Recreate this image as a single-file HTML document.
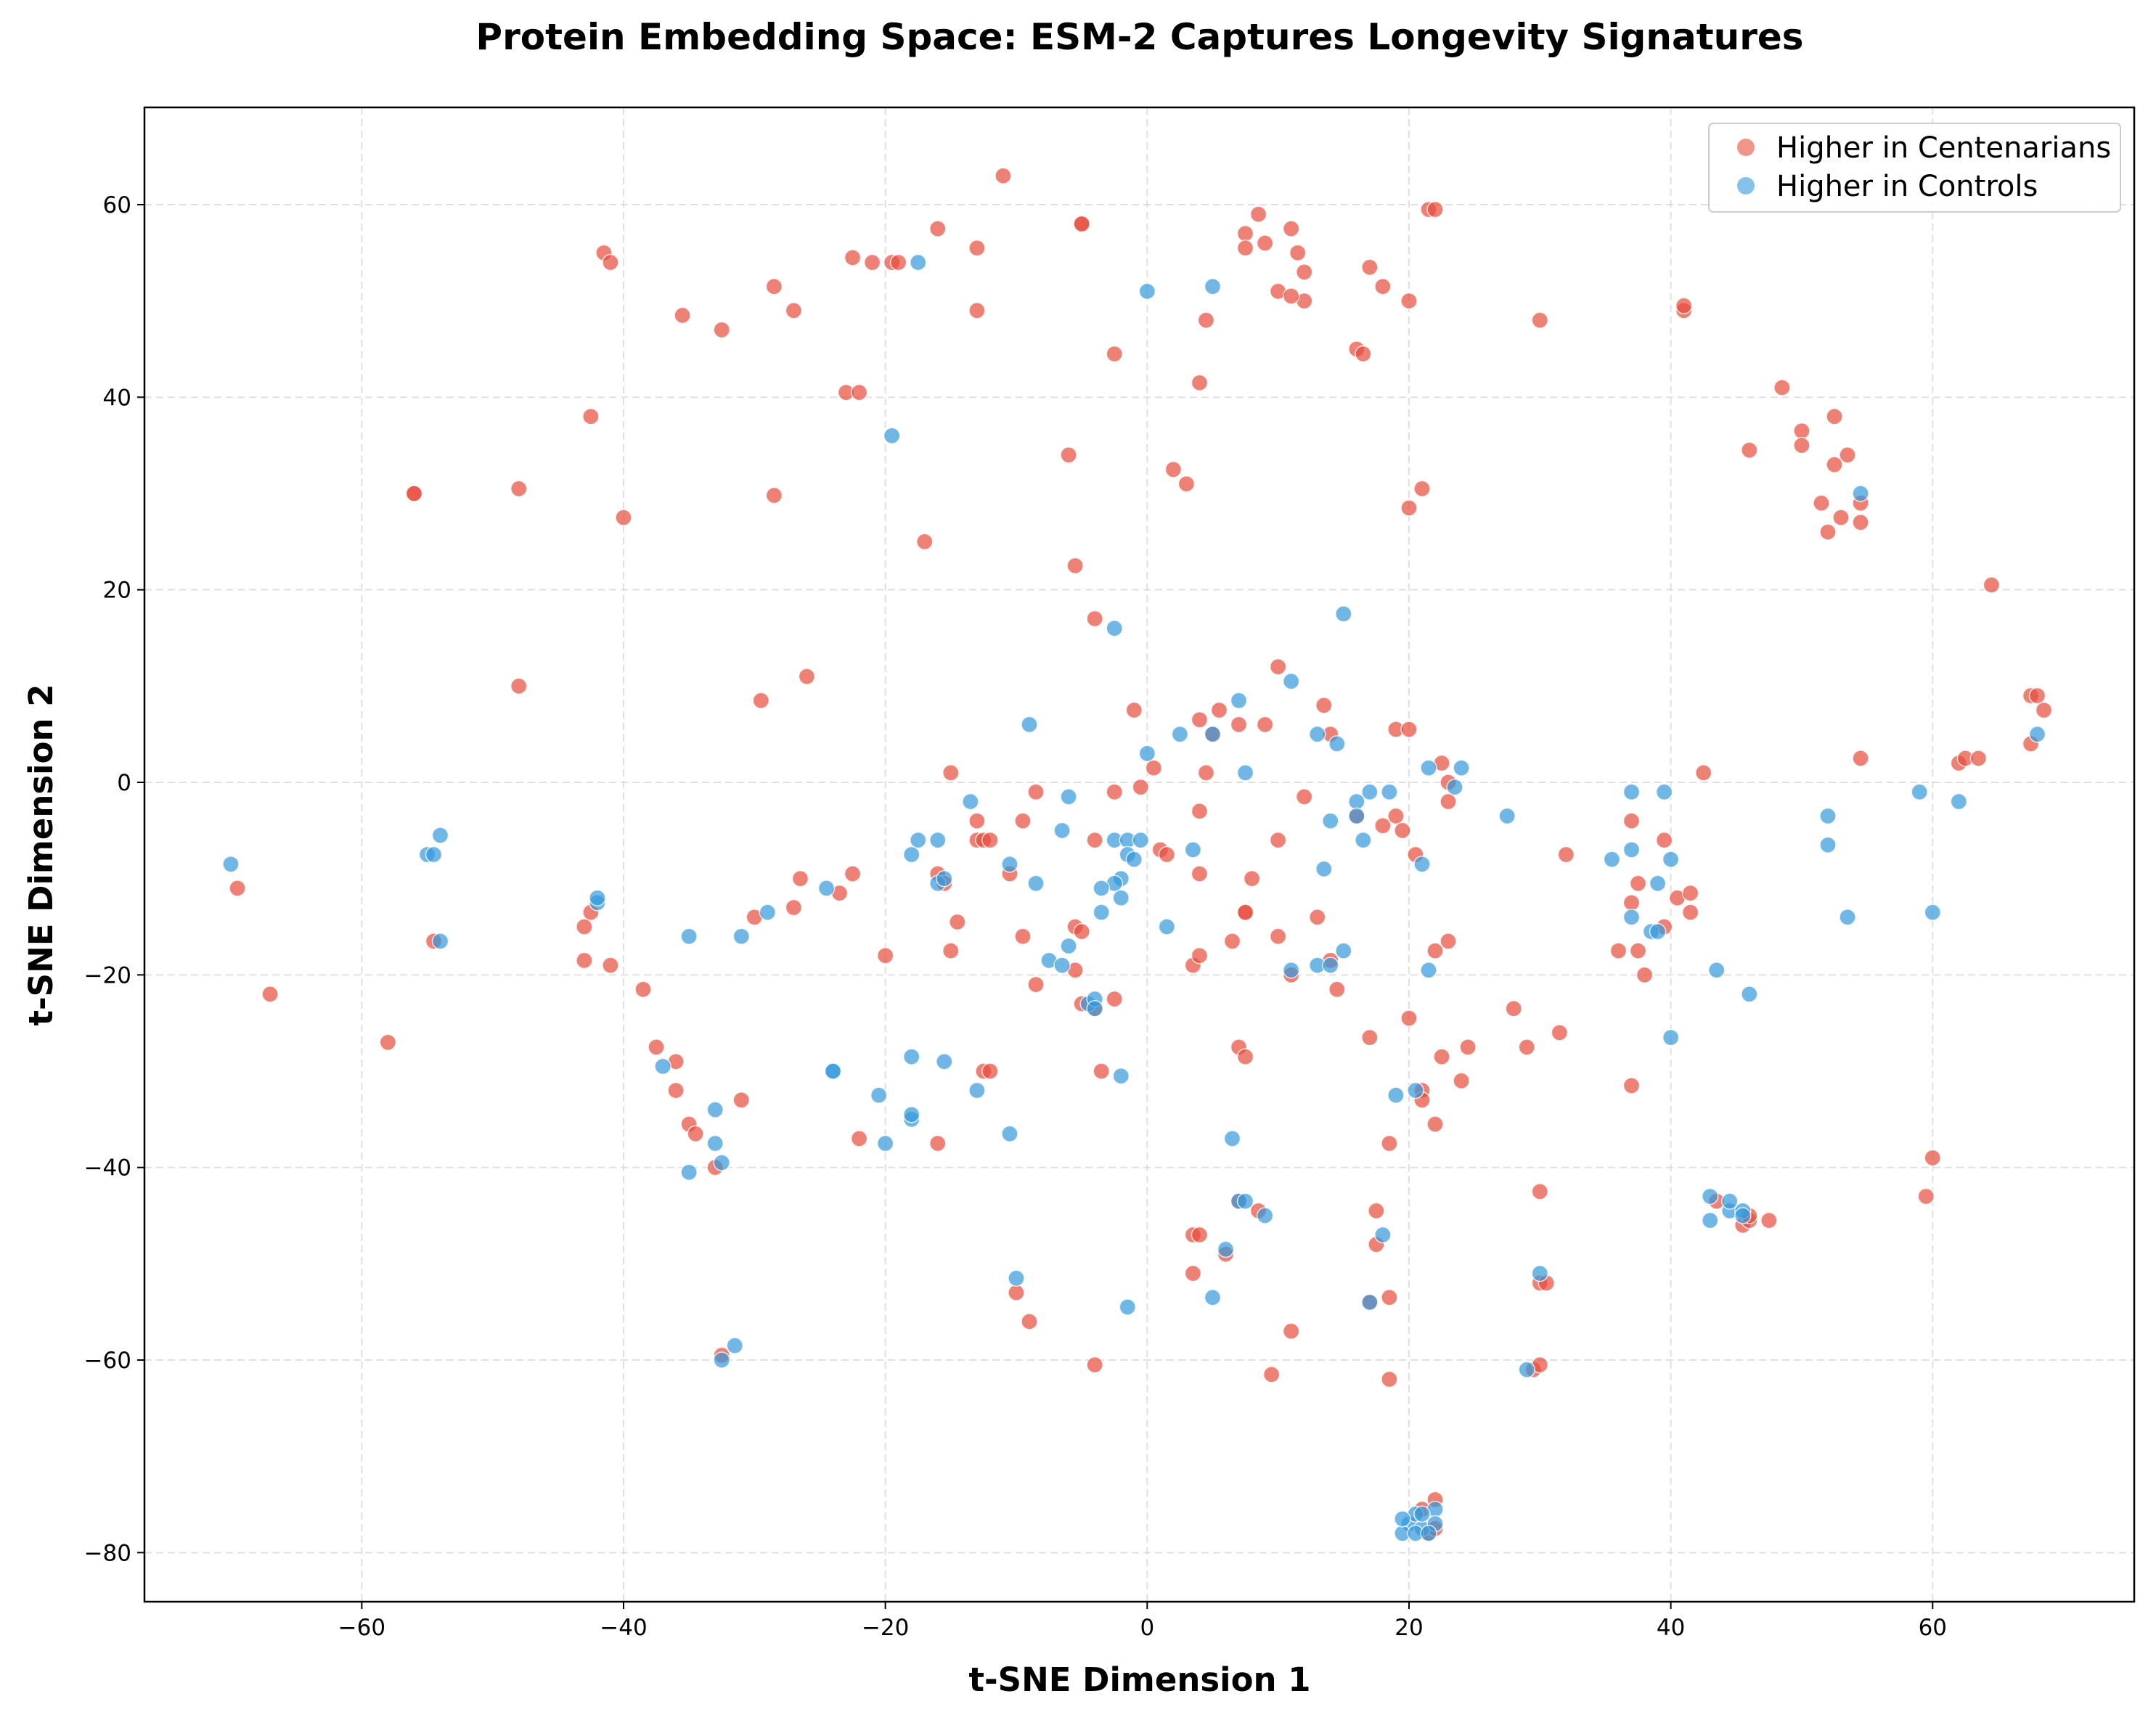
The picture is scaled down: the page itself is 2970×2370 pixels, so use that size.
<!DOCTYPE html>
<html><head><meta charset="utf-8"><style>body{margin:0;background:#fff}svg{display:block}</style></head>
<body>
<svg id="chart" width="2970" height="2370" viewBox="0 0 2970 2370" xmlns="http://www.w3.org/2000/svg" font-family="DejaVu Sans, Liberation Sans, sans-serif">
<rect width="2970" height="2370" fill="#fff"/>
<text x="1570" y="68" text-anchor="middle" font-size="50" font-weight="bold">Protein Embedding Space: ESM-2 Captures Longevity Signatures</text>
<g id="grid"></g>
<g id="ticks"></g>
<g id="points"></g>
<rect x="199" y="148" width="2741" height="2059" fill="none" stroke="#000" stroke-width="2.5"/>
<text x="1570" y="2330" text-anchor="middle" font-size="45" font-weight="bold">t-SNE Dimension 1</text>
<text transform="translate(72,1178) rotate(-90)" text-anchor="middle" font-size="45" font-weight="bold">t-SNE Dimension 2</text>
<g>
<rect x="2354" y="170" width="567" height="122" rx="6" fill="#fff" fill-opacity="0.85" stroke="#ccc" stroke-width="2"/>
<circle cx="2405" cy="203" r="12" fill="#e74c3c" fill-opacity="0.6"/>
<text x="2447" y="217" font-size="40">Higher in Centenarians</text>
<circle cx="2405" cy="256" r="12" fill="#3498db" fill-opacity="0.6"/>
<text x="2447" y="270" font-size="40">Higher in Controls</text>
</g>
</svg>
<script>
const xTicks=[-60,-40,-20,0,20,40,60];
const yTicks=[-80,-60,-40,-20,0,20,40,60];
const redX=[-11,-16,-13,-22.5,-21,-19.5,-19,-41.5,-41,-35.5,-32.5,-28.5,-27,-13,-5,-5,8.5,7.5,9,11,11.5,7.5,12,12,10,11,4.5,-2.5,4,17,18,21.5,22,20,16,16.5,30,41,41,-23,-22,-42.5,-56,-56,-48,-40,-28.5,-6,2,3,20,21,48.5,50,50,52.5,52.5,53.5,53,52,51.5,54.5,54.5,46,-17,-5.5,64.5,
-48,-26,-29.5,-4,-1,5.5,4,7,9,10,13.5,14,19,20,5,0.5,-0.5,4.5,-15,-8.5,-2.5,12,4,-9.5,-13,-13,-12.5,-12,-4,1,1.5,10,19,18,16,19.5,23,23,22.5,20.5,32,42.5,39.5,37,37.5,37,40.5,41.5,41.5,39.5,36,37.5,38,37,-10.5,-16,-15.5,-23.5,-22.5,-26.5,-30,-27,-42.5,-43,-41,-43,-38.5,-54.5,-69.5,-67,-58,-14.5,-15,-20,-9.5,-8.5,-5.5,-5,-5.5,-5,-4,-2.5,4,8,7.5,7.5,6.5,3.5,4,10,13,14.5,11,14,22,23,17,20,22.5,24.5,29,28,31.5,24,21,21,22,18.5,7,7.5,-3.5,-12.5,-12,-16,-22,-37.5,-36,-36,-35,-34.5,-31,-33,60,59.5,62,62.5,63.5,54.5,67.5,67.5,68,68.5,
3.5,4,3.5,6,7,8.5,17.5,17.5,18.5,17,30,30,30.5,29.5,30,18.5,9.5,11,-4,-9,-10,-32.5,22,21.5,22,21,43.5,45.5,46,47.5,46];
const redY=[63,57.5,55.5,54.5,54,54,54,55,54,48.5,47,51.5,49,49,58,58,59,57,56,57.5,55,55.5,53,50,51,50.5,48,44.5,41.5,53.5,51.5,59.5,59.5,50,45,44.5,48,49,49.5,40.5,40.5,38,30,30,30.5,27.5,29.8,34,32.5,31,28.5,30.5,41,36.5,35,38,33,34,27.5,26,29,29,27,34.5,25,22.5,20.5,
10,11,8.5,17,7.5,7.5,6.5,6,6,12,8,5,5.5,5.5,5,1.5,-0.5,1,1,-1,-1,-1.5,-3,-4,-4,-6,-6,-6,-6,-7,-7.5,-6,-3.5,-4.5,-3.5,-5,-2,0,2,-7.5,-7.5,1,-6,-4,-10.5,-12.5,-12,-11.5,-13.5,-15,-17.5,-17.5,-20,-31.5,-9.5,-9.5,-10.5,-11.5,-9.5,-10,-14,-13,-13.5,-15,-19,-18.5,-21.5,-16.5,-11,-22,-27,-14.5,-17.5,-18,-16,-21,-15,-15.5,-19.5,-23,-23.5,-22.5,-9.5,-10,-13.5,-13.5,-16.5,-19,-18,-16,-14,-21.5,-20,-18.5,-17.5,-16.5,-26.5,-24.5,-28.5,-27.5,-27.5,-23.5,-26,-31,-32,-33,-35.5,-37.5,-27.5,-28.5,-30,-30,-30,-37.5,-37,-27.5,-29,-32,-35.5,-36.5,-33,-40,-39,-43,2,2.5,2.5,2.5,4,9,9,7.5,
-47,-47,-51,-49,-43.5,-44.5,-44.5,-48,-53.5,-54,-42.5,-52,-52,-61,-60.5,-62,-61.5,-57,-60.5,-56,-53,-59.5,-74.5,-78,-77.5,-75.5,-43.5,-46,-45.5,-45.5,-45];
const blueX=[-17.5,0,5,-19.5,-2.5,15,-9,7,11,2.5,5,0,13,14.5,7.5,21.5,24,23.5,17,18.5,16,27.5,14,16,16.5,13.5,21,-6,-13.5,-17.5,-16,-18,-10.5,-8.5,-6.5,-2.5,-1.5,-0.5,3.5,-1.5,-1,-2,-2.5,-3.5,-2,-3.5,1.5,-6,-7.5,-6.5,-4.5,-4,-4,-2,-18,-13,-20.5,-18,-18,-20,-10.5,-24,-24,-24.5,-29,-31,-35,-42,-42,-54,-55,-54.5,-54,-70,-37,-33,-33,-32.5,-35,-31.5,-32.5,-10,-1.5,5,6.5,6,7,7.5,9,11,13,14,15,21.5,19,20.5,18,17,29,30,35.5,37,39.5,37,40,39,37,38.5,39,43.5,40,46,52,52,53.5,54.5,59,62,60,68,43,43,44.5,44.5,45.5,45.5,20,20.5,21,22,19.5,20.5,19.5,21,22,21.5,-15.5,-16,-15.5];
const blueY=[54,51,51.5,36,16,17.5,6,8.5,10.5,5,5,3,5,4,1,1.5,1.5,-0.5,-1,-1,-2,-3.5,-4,-3.5,-6,-9,-8.5,-1.5,-2,-6,-6,-7.5,-8.5,-10.5,-5,-6,-6,-6,-7,-7.5,-8,-10,-10.5,-11,-12,-13.5,-15,-17,-18.5,-19,-23,-22.5,-23.5,-30.5,-28.5,-32,-32.5,-35,-34.5,-37.5,-36.5,-30,-30,-11,-13.5,-16,-16,-12.5,-12,-5.5,-7.5,-7.5,-16.5,-8.5,-29.5,-34,-37.5,-39.5,-40.5,-58.5,-60,-51.5,-54.5,-53.5,-37,-48.5,-43.5,-43.5,-45,-19.5,-19,-19,-17.5,-19.5,-32.5,-32,-47,-54,-61,-51,-8,-7,-1,-1,-8,-10.5,-14,-15.5,-15.5,-19.5,-26.5,-22,-6.5,-3.5,-14,30,-1,-2,-13.5,5,-43,-45.5,-44.5,-43.5,-44.5,-45,-77,-76,-77.5,-75.5,-78,-78,-76.5,-76,-77,-78,-29,-10.5,-10];
const NS='http://www.w3.org/2000/svg';
const L=199,R=2940,T=148,B=2207,X0=-76.6,X1=75.4,Y0=-85.1,Y1=70.1;
function sx(v){return L+(v-X0)/(X1-X0)*(R-L);}
function sy(v){return B-(v-Y0)/(Y1-Y0)*(B-T);}
function mk(tag,attrs,parent){const e=document.createElementNS(NS,tag);for(const k in attrs)e.setAttribute(k,attrs[k]);parent.appendChild(e);return e;}
const grid=document.getElementById('grid'),ticks=document.getElementById('ticks'),pts=document.getElementById('points');
xTicks.forEach(t=>{const x=sx(t);
 const g=mk('line',{x1:x,x2:x,y1:T,y2:B,stroke:'#ccc','stroke-width':2,'stroke-dasharray':'10,6','stroke-opacity':0.6},grid);
 
 
 const tk=mk('line',{x1:x,x2:x,y1:B,y2:B+10,stroke:'#000','stroke-width':2},ticks);
 
 
 const tl=mk('text',{x:x,y:B+46,'text-anchor':'middle','font-size':31},ticks);
 tl.textContent=(t<0?'\u2212':'')+Math.abs(t);
 
 
});
yTicks.forEach(t=>{const y=sy(t);
 const g=mk('line',{x1:L,x2:R,y1:y,y2:y,stroke:'#ccc','stroke-width':2,'stroke-dasharray':'10,6','stroke-opacity':0.6},grid);
 
 
 const tk=mk('line',{x1:L-10,x2:L,y1:y,y2:y,stroke:'#000','stroke-width':2},ticks);
 
 
 const tl=mk('text',{x:L-18,y:y+11,'text-anchor':'end','font-size':31},ticks);
 tl.textContent=(t<0?'\u2212':'')+Math.abs(t);
 
 
});
function drawSeries(xs,ys,color,name){
 for(let i=0;i<xs.length;i++){
  const c=mk('circle',{cx:sx(xs[i]),cy:sy(ys[i]),r:11,fill:color,'fill-opacity':0.7,stroke:'#fff','stroke-width':1.5,'stroke-opacity':0.8},pts);
  
  
 }
}
drawSeries(redX,redY,'#e74c3c','point-centenarians');
drawSeries(blueX,blueY,'#3498db','point-controls');
</script>
</body></html>
